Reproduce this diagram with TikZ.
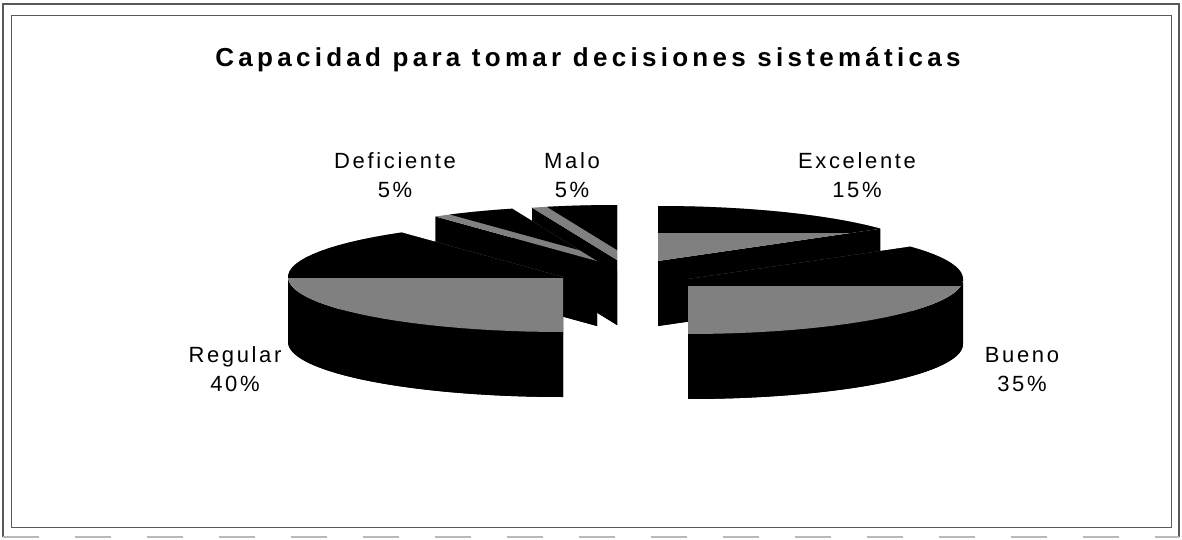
\documentclass[tikz,border=0pt]{standalone}
\usepackage{fontspec}
\setmainfont{Liberation Sans}
\newfontfamily\titlefont[LetterSpace=16.5]{Liberation Sans}
\newfontfamily\labelfont[LetterSpace=12]{Liberation Sans}
\usepackage{tikz}
\usetikzlibrary{calc}
\definecolor{bandgrey}{gray}{0.5}
\definecolor{framegrey}{gray}{0.35}

\tikzset{
  piebody/.style={fill=black},
  pielabel/.style={align=center,font=\labelfont\fontsize{22}{29}\selectfont}
}

% one exploded slice: centre, start angle, end angle, dark part of the top
\newcommand{\pieslice}[4]{%
  \begin{scope}[shift={(#1)}]
    \fill[piebody] (0,65) -- plot[domain=#2:#3,samples=40] ({275*sin(\x)},{65-55*cos(\x)}) -- cycle;
    \fill[piebody] (0,0) -- ({275*sin(#2)},{-55*cos(#2)}) -- ++(0,65) -- (0,65) -- cycle;
    \fill[piebody] (0,0) -- ({275*sin(#3)},{-55*cos(#3)}) -- ++(0,65) -- (0,65) -- cycle;
    \begin{scope}
      \clip (0,0) -- plot[domain=#2:#3,samples=40] ({275*sin(\x)},{-55*cos(\x)}) -- cycle;
      \fill[bandgrey] (-300,-100) rectangle (300,100);
      \fill[piebody] #4;
    \end{scope}
  \end{scope}}

% front wall of a slice: centre, start angle, end angle (front half only)
\newcommand{\pierim}[3]{%
  \fill[piebody,shift={(#1)}] ({275*sin(#2)},{-55*cos(#2)}) -- plot[domain=0:2,samples=161]
    ({275*sin(#2+(#3-#2)*(1-abs(1-\x)))},{65*(\x>1)-55*cos(#2+(#3-#2)*(1-abs(1-\x)))}) -- cycle;}

\begin{document}
\begin{tikzpicture}[x=1pt,y=-1pt]
  \useasboundingbox (0,0) rectangle (1182,540);

  % frame
  \draw[framegrey,line width=1.4] (3,537) -- (3,4) -- (1179,4) -- (1179,537);
  \draw[gray!55,line width=1.2,dash pattern=on 36pt off 36pt] (3,537) -- (1179,537);
  \draw[framegrey,line width=0.8] (11,15) rectangle (1171,527);

  \node[font=\titlefont\bfseries\fontsize{26}{30}\selectfont] (title) at (588,60) {Capacidad para tomar decisiones sistemáticas};

  \coordinate (exc) at (658,261);
  \coordinate (malo) at (617,260);
  \coordinate (def) at (597,261);
  \coordinate (reg) at (563,277);
  \coordinate (bue) at (688,279);

  \pieslice{exc}{0}{54}{(-300,-100) rectangle (300,-28)}
  \pieslice{malo}{342}{360}{(0,-10) -- plot[domain=342:360,samples=20] ({275*sin(\x)},{-10-55*cos(\x)}) -- cycle}
  \pieslice{def}{324}{342}{(0,-6) -- plot[domain=324:342,samples=20] ({275*sin(\x)},{-6-55*cos(\x)}) -- cycle}
  \pierim{reg}{180}{270}
  \pieslice{reg}{180}{324}{(-300,-100) rectangle (300,1)}
  \pierim{bue}{90}{180}
  \pieslice{bue}{54}{180}{(-300,-100) rectangle (300,7)}

  \node[pielabel] (lblDef) at (395,175) {Deficiente\\5\%};
  \node[pielabel] (lblMalo) at (572,175) {Malo\\5\%};
  \node[pielabel] (lblExc) at (857,175) {Excelente\\15\%};
  \node[pielabel] (lblReg) at (235,369) {Regular\\40\%};
  \node[pielabel] (lblBue) at (1022,370) {Bueno\\35\%};
\end{tikzpicture}
\end{document}
